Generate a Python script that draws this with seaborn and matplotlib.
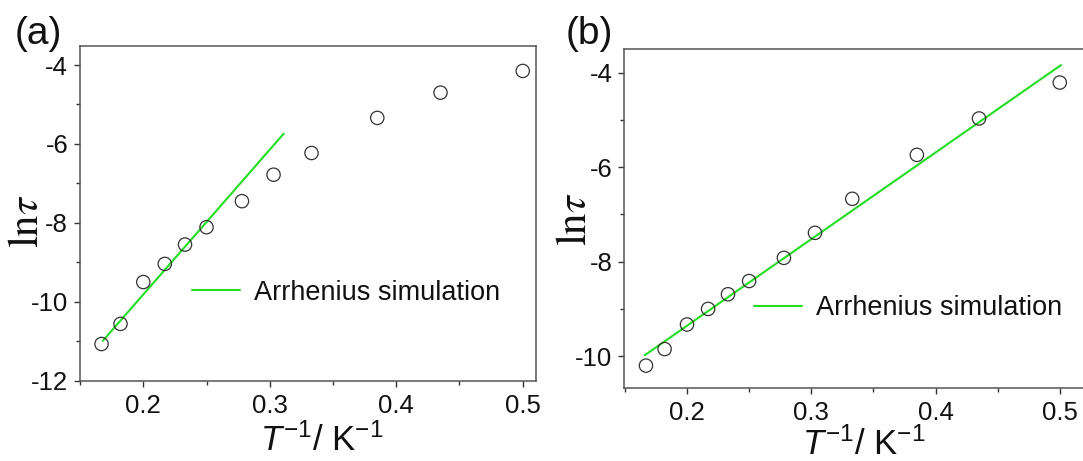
import numpy as np
import pandas as pd
import matplotlib
matplotlib.use("Agg")
import matplotlib.pyplot as plt
from matplotlib.ticker import MultipleLocator
import seaborn as sns

# 1/T values (K^-1) shared by both panels
inv_T = [0.167, 0.182, 0.200, 0.217, 0.233, 0.250, 0.278, 0.303, 0.333, 0.385, 0.435, 0.500]

# ln(tau)
ln_tau_a = [-11.07, -10.56, -9.50, -9.04, -8.55, -8.11, -7.45, -6.78, -6.23, -5.34, -4.70, -4.15]
ln_tau_b = [-10.20, -9.85, -9.33, -9.00, -8.69, -8.41, -7.92, -7.39, -6.67, -5.74, -4.97, -4.21]

# Arrhenius fit lines (end points)
fit_x_a = [0.168, 0.311]
fit_y_a = [-10.99, -5.74]
fit_x_b = [0.166, 0.501]
fit_y_b = [-9.98, -3.84]

sns.set_style("ticks")
plt.rcParams['font.family'] = ['Liberation Sans', 'DejaVu Sans']
plt.rcParams['mathtext.fontset'] = 'custom'
plt.rcParams['mathtext.rm'] = 'Liberation Sans'
plt.rcParams['mathtext.it'] = 'Liberation Sans:italic'
plt.rcParams['axes.unicode_minus'] = False

green = '#22dd22'

fig = plt.figure(figsize=(10.83, 4.61), dpi=100)
ax_a = fig.add_axes([0.0739, 0.1742, 0.4208, 0.7267])
ax_b = fig.add_axes([0.5765, 0.1577, 0.4250, 0.7360])

panels = [
    (ax_a, ln_tau_a, fit_x_a, fit_y_a, (0.15, 0.5103), (-12, -3.51), (0.246, 0.263), (-0.073, 0.475), (0.53, -0.21)),
    (ax_b, ln_tau_b, fit_x_b, fit_y_b, (0.1496, 0.52), (-10.68, -3.5), (0.282, 0.236), (-0.064, 0.50), (0.52, -0.196)),
]

for ax, ln_tau, fx, fy, xlim, ylim, leg_pos, ylab_pos, xlab_pos in panels:
    df = pd.DataFrame({'x': inv_T, 'y': ln_tau})
    fit = pd.DataFrame({'x': fx, 'y': fy})
    sns.lineplot(data=fit, x='x', y='y', ax=ax, color=green, linewidth=1.5,
                 label='Arrhenius simulation', zorder=2)
    sns.scatterplot(data=df, x='x', y='y', ax=ax, marker='o', s=92,
                    facecolor='none', edgecolor='#333333', linewidth=0.9, zorder=3)
    ax.set_xlim(*xlim)
    ax.set_ylim(*ylim)
    ax.set_xticks([0.2, 0.3, 0.4, 0.5])
    ax.set_xticklabels(['0.2', '0.3', '0.4', '0.5'])
    ax.xaxis.set_minor_locator(MultipleLocator(0.05))
    ax.yaxis.set_major_locator(MultipleLocator(2))
    ax.yaxis.set_minor_locator(MultipleLocator(1))
    ax.tick_params(which='major', direction='out', length=4.5, width=1, labelsize=18.5,
                   colors='#333333', labelcolor='#111111')
    ax.tick_params(axis='x', which='major', pad=5)
    ax.tick_params(axis='y', which='major', pad=4)
    ax.tick_params(which='minor', direction='out', length=3, width=1, colors='#333333')
    for sp in ax.spines.values():
        sp.set_linewidth(1.1)
        sp.set_color('#555555')
    ax.set_xlabel(r'$T^{-1}$/ K$^{-1}$', fontsize=25, color='#111111')
    ax.xaxis.set_label_coords(*xlab_pos)
    ax.xaxis.label.set_va('baseline')
    ax.set_ylabel(r'$\mathrm{ln}\tau$', fontsize=31, math_fontfamily='stix', color='#111111')
    ax.yaxis.set_label_coords(*ylab_pos)
    ax.legend(loc='center left', bbox_to_anchor=leg_pos, frameon=False, fontsize=19.5,
              handlelength=1.78, handletextpad=0.52, borderpad=0, borderaxespad=0,
              labelcolor='#111111')

fig.text(0.0139, 0.926, '(a)', fontsize=28, va='center', ha='left', color='#111111')
fig.text(0.5226, 0.926, '(b)', fontsize=28, va='center', ha='left', color='#111111')

fig.savefig('out.png', dpi=100)
